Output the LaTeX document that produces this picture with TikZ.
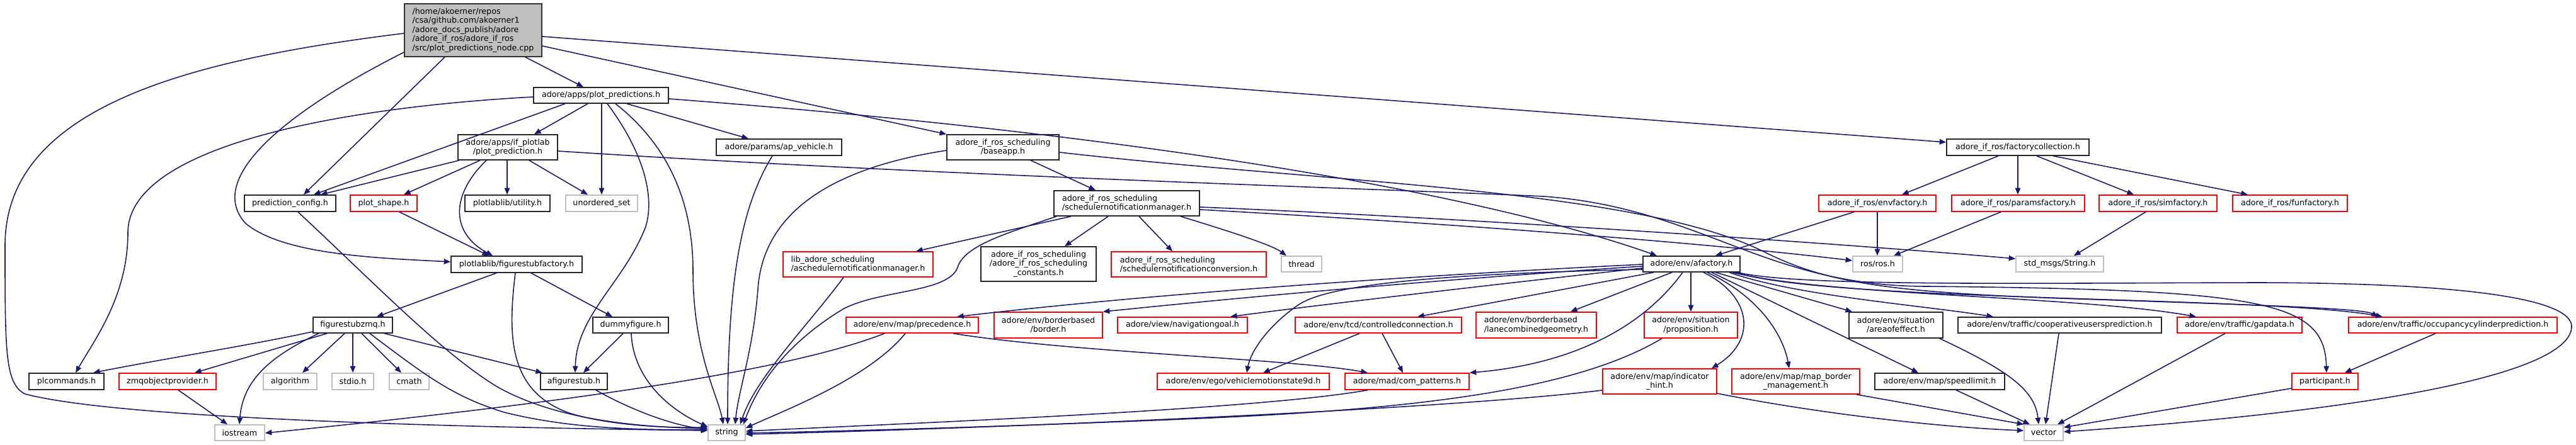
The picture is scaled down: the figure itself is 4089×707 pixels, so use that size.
\documentclass[tikz,border=0pt]{standalone}
\usepackage{fontspec}
\setmainfont{DejaVu Sans}
\usetikzlibrary{arrows.meta}
\definecolor{edgeblue}{HTML}{191970}
\definecolor{grayb}{HTML}{BFBFBF}
\newcommand\mkbox[6]{\node[#1, minimum width={(#5-#3)*0.01cm}, minimum height={(#6-#4)*0.01cm}] (#2) at ({(#3+#5)/2},{(#4+#6)/2})}
\tikzset{
 nd/.style={draw, line width=0.45pt, inner sep=0pt, font=\fontsize{3.6pt}{4.1pt}\selectfont, text=black, align=center},
 blk/.style={nd, draw=black!85},
 blkl/.style={blk, align=left},
 redn/.style={nd, draw=red},
 rednl/.style={redn, align=left},
 gryn/.style={nd, draw=grayb},
 rootn/.style={nd, draw=black!80, fill=grayb, align=left},
 edge/.style={draw=edgeblue, line width=0.45pt, -{Triangle[length=3pt,width=2.4pt]}},
}
\begin{document}
\begin{tikzpicture}[x=0.01cm,y=-0.01cm]
\useasboundingbox (0,0) rectangle (4089,707);
% ---------- nodes ----------
\mkbox{rootn}{root}{642}{6}{860}{90}{/home/akoerner/repos\\/csa/github.com/akoerner1\\/adore\_docs\_publish/adore\\/adore\_if\_ros/adore\_if\_ros\\/src/plot\_predictions\_node.cpp};
\mkbox{blk}{pp}{847}{139}{1061}{164}{adore/apps/plot\_predictions.h};
\mkbox{blk}{plp}{727}{214}{885}{254}{adore/apps/if\_plotlab\\/plot\_prediction.h};
\mkbox{blk}{apv}{1137}{221}{1336}{247}{adore/params/ap\_vehicle.h};
\mkbox{blk}{bapp}{1503}{214}{1681}{254}{adore\_if\_ros\_scheduling\\/baseapp.h};
\mkbox{blk}{fcol}{3090}{221}{3316}{247}{adore\_if\_ros/factorycollection.h};
\mkbox{blk}{pcfg}{388}{310}{533}{336}{prediction\_config.h};
\mkbox{redn}{pshape}{556}{310}{662}{336}{plot\_shape.h};
\mkbox{blk}{util}{738}{310}{873}{336}{plotlablib/utility.h};
\mkbox{gryn}{uset}{898}{310}{1012}{336}{unordered\_set};
\mkbox{blkl}{snm}{1673}{303}{1904}{343}{adore\_if\_ros\_scheduling\\/schedulernotificationmanager.h};
\mkbox{redn}{envf}{2887}{310}{3073}{336}{adore\_if\_ros/envfactory.h};
\mkbox{redn}{parf}{3098}{310}{3309}{336}{adore\_if\_ros/paramsfactory.h};
\mkbox{redn}{simf}{3332}{310}{3519}{336}{adore\_if\_ros/simfactory.h};
\mkbox{redn}{funf}{3544}{310}{3726}{336}{adore\_if\_ros/funfactory.h};
\mkbox{blk}{fsf}{716}{407}{924}{433}{plotlablib/figurestubfactory.h};
\mkbox{rednl}{asnm}{1243}{400}{1481}{440}{lib\_adore\_scheduling\\/aschedulernotificationmanager.h};
\mkbox{blk}{const}{1557}{392}{1740}{447}{adore\_if\_ros\_scheduling\\/adore\_if\_ros\_scheduling\\\_constants.h};
\mkbox{rednl}{conv}{1764}{400}{2010}{440}{adore\_if\_ros\_scheduling\\/schedulernotificationconversion.h};
\mkbox{gryn}{thread}{2034}{407}{2098}{432}{thread};
\mkbox{blk}{afac}{2608}{407}{2762}{432}{adore/env/afactory.h};
\mkbox{gryn}{ros}{2941}{407}{3020}{432}{ros/ros.h};
\mkbox{gryn}{smsg}{3200}{407}{3339}{432}{std\_msgs/String.h};
\mkbox{blk}{fsz}{497}{504}{623}{529}{figurestubzmq.h};
\mkbox{blk}{dummy}{941}{504}{1061}{529}{dummyfigure.h};
\mkbox{redn}{prec}{1343}{504}{1553}{529}{adore/env/map/precedence.h};
\mkbox{redn}{border}{1578}{496}{1750}{537}{adore/env/borderbased\\/border.h};
\mkbox{redn}{navg}{1774}{504}{1980}{529}{adore/view/navigationgoal.h};
\mkbox{redn}{ccon}{2056}{504}{2320}{529}{adore/env/tcd/controlledconnection.h};
\mkbox{rednl}{lcg}{2343}{496}{2534}{537}{adore/env/borderbased\\/lanecombinedgeometry.h};
\mkbox{redn}{prop}{2610}{496}{2758}{537}{adore/env/situation\\/proposition.h};
\mkbox{blk}{aoe}{2935}{496}{3084}{537}{adore/env/situation\\/areaofeffect.h};
\mkbox{blk}{coop}{3108}{504}{3431}{529}{adore/env/traffic/cooperativeusersprediction.h};
\mkbox{redn}{gap}{3456}{504}{3654}{529}{adore/env/traffic/gapdata.h};
\mkbox{redn}{occ}{3728}{504}{4059}{529}{adore/env/traffic/occupancycylinderprediction.h};
\mkbox{blk}{plc}{46}{593}{165}{619}{plcommands.h};
\mkbox{redn}{zmq}{189}{593}{343}{619}{zmqobjectprovider.h};
\mkbox{gryn}{algo}{418}{593}{503}{619}{algorithm};
\mkbox{gryn}{stdio}{527}{593}{593}{619}{stdio.h};
\mkbox{gryn}{cmath}{618}{593}{681}{619}{cmath};
\mkbox{blk}{afs}{858}{593}{964}{619}{afigurestub.h};
\mkbox{redn}{vms}{1837}{593}{2110}{619}{adore/env/ego/vehiclemotionstate9d.h};
\mkbox{redn}{comp}{2135}{593}{2332}{619}{adore/mad/com\_patterns.h};
\mkbox{redn}{ihint}{2544}{586}{2725}{626}{adore/env/map/indicator\\\_hint.h};
\mkbox{redn}{mbm}{2749}{586}{2952}{626}{adore/env/map/map\_border\\\_management.h};
\mkbox{blk}{spd}{2976}{593}{3182}{619}{adore/env/map/speedlimit.h};
\mkbox{redn}{part}{3638}{593}{3743}{619}{participant.h};
\mkbox{gryn}{iostream}{341}{675}{420}{700}{iostream};
\mkbox{gryn}{string}{1124}{675}{1183}{700}{string};
\mkbox{gryn}{vector}{3213}{675}{3275}{700}{vector};
% ---------- edges ----------
% root
\draw[edge] (root.west |- 0,53) .. controls (300,95) and (8,170) .. (8,390) .. controls (8,560) and (8,610) .. (40,626) .. controls (200,668) and (800,680) .. (string.west |- 0,684);
\draw[edge] (root.south -| 706,0) -- (pcfg.north -| 482,0);
\draw[edge] (root.west |- 0,83) .. controls (430,190) and (330,290) .. (390,355) .. controls (450,405) and (600,410) .. (fsf.west |- 0,416);
\draw[edge] (root.south -| 834,0) -- (pp.north -| 926,0);
\draw[edge] (root.east |- 0,73) -- (bapp.north west);
\draw[edge] (root.east |- 0,58) -- (fcol.west |- 0,226);
% plot_predictions.h
\draw[edge] (pp.west |- 0,154) .. controls (550,170) and (203,230) .. (203,370) .. controls (203,470) and (150,540) .. (plc.north -| 120,0);
\draw[edge] (pp.south -| 897,0) -- (pcfg.north -| 498,0);
\draw[edge] (pp.south -| 933,0) -- (plp.north -| 848,0);
\draw[edge] (pp.south -| 955,0) -- (uset.north -| 955,0);
\draw[edge] (pp.south -| 964,0) .. controls (1020,240) and (1040,310) .. (1025,360) .. controls (990,450) and (915,500) .. (afs.north -| 913,0);
\draw[edge] (pp.south -| 977,0) .. controls (1060,230) and (1100,320) .. (1100,430) .. controls (1100,560) and (1140,630) .. (string.north -| 1148,0);
\draw[edge] (pp.south -| 995,0) -- (apv.north -| 1188,0);
\draw[edge] (pp.east |- 0,157) .. controls (1700,205) and (2300,290) .. (afac.north -| 2630,0);
% plot_prediction.h
\draw[edge] (plp.south -| 729,0) -- (pcfg.north -| 509,0);
\draw[edge] (plp.south -| 762,0) -- (pshape.north -| 641,0);
\draw[edge] (plp.south -| 805,0) -- (util.north -| 805,0);
\draw[edge] (plp.south -| 840,0) -- (uset.north -| 933,0);
\draw[edge] (plp.south -| 772,0) .. controls (715,310) and (715,370) .. (fsf.north -| 782,0);
\draw[edge] (plp.east |- 0,240) .. controls (1500,280) and (2200,300) .. (2450,312) .. controls (2700,330) and (2800,455) .. (3059,455) .. controls (3600,460) and (3690,480) .. (part.north -| 3693,0);
% plot_shape, prediction_config
\draw[edge] (pshape.south -| 634,0) -- (fsf.north -| 776,0);
\draw[edge] (pcfg.south -| 473,0) .. controls (600,455) and (700,560) .. (790,615) .. controls (880,665) and (1000,678) .. (string.west |- 0,681);
% figurestubfactory
\draw[edge] (fsf.south -| 788,0) -- (fsz.north -| 598,0);
\draw[edge] (fsf.south -| 843,0) -- (dummy.north -| 972,0);
\draw[edge] (fsf.south -| 818,0) .. controls (805,540) and (810,620) .. (900,655) .. controls (960,675) and (1050,680) .. (string.west |- 0,679);
% figurestubzmq
\draw[edge] (fsz.west |- 0,527) .. controls (400,548) and (260,570) .. (plc.north -| 148,0);
\draw[edge] (fsz.south -| 519,0) -- (zmq.north -| 309,0);
\draw[edge] (fsz.south -| 506,0) .. controls (420,570) and (385,610) .. (iostream.north -| 380,0);
\draw[edge] (fsz.south -| 547,0) -- (algo.north -| 480,0);
\draw[edge] (fsz.south -| 560,0) -- (stdio.north -| 560,0);
\draw[edge] (fsz.south -| 574,0) -- (cmath.north -| 637,0);
\draw[edge] (fsz.south -| 610,0) -- (afs.north -| 861,0);
\draw[edge] (fsz.south -| 587,0) .. controls (680,600) and (720,630) .. (800,655) .. controls (900,680) and (1000,683) .. (string.west |- 0,683);
\draw[edge] (zmq.south -| 283,0) -- (iostream.north -| 361,0);
\draw[edge] (afs.south -| 946,0) .. controls (990,645) and (1060,675) .. (string.west |- 0,682);
\draw[edge] (dummy.south -| 989,0) -- (afs.north -| 926,0);
\draw[edge] (dummy.south -| 1002,0) .. controls (1005,600) and (1060,650) .. (string.west |- 0,678);
% ap_vehicle
\draw[edge] (apv.south -| 1226,0) .. controls (1175,330) and (1155,450) .. (string.north -| 1155,0);
% baseapp
\draw[edge] (bapp.south -| 1636,0) -- (snm.north -| 1739,0);
\draw[edge] (bapp.west |- 0,239) .. controls (1300,270) and (1210,350) .. (1203,460) .. controls (1195,560) and (1172,620) .. (string.north -| 1167,0);
\draw[edge] (bapp.east |- 0,242) .. controls (2100,290) and (2600,300) .. (2800,400) .. controls (2900,450) and (3000,465) .. (3300,475) .. controls (3600,485) and (3750,490) .. (occ.north -| 3775,0);
% schedulernotificationmanager
\draw[edge] (snm.south -| 1700,0) -- (asnm.north -| 1454,0);
\draw[edge] (snm.south -| 1677,0) .. controls (1600,370) and (1530,390) .. (1520,425) .. controls (1505,465) and (1400,460) .. (1340,490) .. controls (1240,550) and (1200,620) .. (string.north -| 1180,0);
\draw[edge] (snm.south -| 1759,0) -- (const.north -| 1690,0);
\draw[edge] (snm.south -| 1808,0) -- (conv.north -| 1861,0);
\draw[edge] (snm.south -| 1874,0) .. controls (1960,370) and (2020,390) .. (thread.north -| 2042,0);
\draw[edge] (snm.east |- 0,329) .. controls (2300,345) and (2900,385) .. (smsg.west |- 0,411);
\draw[edge] (snm.east |- 0,333) .. controls (2300,355) and (2700,385) .. (ros.west |- 0,414);
\draw[edge] (asnm.south -| 1339,0) .. controls (1280,520) and (1200,600) .. (string.north -| 1175,0);
% factories
\draw[edge] (envf.south -| 2943,0) -- (afac.north -| 2723,0);
\draw[edge] (envf.south -| 2980,0) -- (ros.north -| 2980,0);
\draw[edge] (parf.south -| 3176,0) -- (ros.north -| 3006,0);
\draw[edge] (simf.south -| 3406,0) -- (smsg.north -| 3292,0);
\draw[edge] (fcol.south -| 3172,0) -- (envf.north -| 3019,0);
\draw[edge] (fcol.south -| 3203,0) -- (parf.north -| 3203,0);
\draw[edge] (fcol.south -| 3233,0) -- (simf.north -| 3387,0);
\draw[edge] (fcol.south -| 3259,0) -- (funf.north -| 3568,0);
% afactory
\draw[edge] (afac.west |- 0,420) .. controls (2200,440) and (1800,470) .. (prec.north -| 1519,0);
\draw[edge] (afac.west |- 0,423) .. controls (2200,450) and (1900,480) .. (border.north east);
\draw[edge] (afac.west |- 0,426) .. controls (2300,460) and (2050,490) .. (navg.north -| 1953,0);
\draw[edge] (afac.west |- 0,428) .. controls (2300,435) and (2110,450) .. (2060,485) .. controls (2010,520) and (1985,560) .. (vms.north -| 1979,0);
\draw[edge] (afac.south -| 2625,0) -- (ccon.north -| 2250,0);
\draw[edge] (afac.south -| 2654,0) -- (lcg.north -| 2493,0);
\draw[edge] (afac.south -| 2671,0) .. controls (2600,530) and (2480,580) .. (comp.north east);
\draw[edge] (afac.south -| 2684,0) -- (prop.north -| 2684,0);
\draw[edge] (afac.south -| 2704,0) .. controls (2780,470) and (2790,540) .. (ihint.north -| 2717,0);
\draw[edge] (afac.south -| 2710,0) .. controls (2790,470) and (2830,530) .. (mbm.north -| 2840,0);
\draw[edge] (afac.south -| 2717,0) -- (spd.north -| 3045,0);
\draw[edge] (afac.south -| 2723,0) -- (aoe.north -| 2940,0);
\draw[edge] (afac.south -| 2745,0) .. controls (2850,470) and (3050,485) .. (coop.north -| 3164,0);
\draw[edge] (afac.south -| 2750,0) .. controls (2900,470) and (3300,470) .. (gap.north -| 3486,0);
\draw[edge] (afac.south -| 2755,0) .. controls (2900,480) and (3600,470) .. (occ.north -| 3782,0);
\draw[edge] (afac.south -| 2758,0) .. controls (2850,455) and (3200,450) .. (3585,449) .. controls (3950,450) and (4085,480) .. (4082,520) .. controls (4078,590) and (3800,650) .. (vector.east |- 0,686);
% second-level
\draw[edge] (ccon.south -| 2158,0) -- (vms.north -| 2005,0);
\draw[edge] (ccon.south -| 2194,0) -- (comp.north -| 2227,0);
\draw[edge] (prec.south -| 1513,0) .. controls (1700,560) and (2050,570) .. (comp.north -| 2171,0);
\draw[edge] (prec.south -| 1404,0) .. controls (1250,590) and (900,640) .. (iostream.east |- 0,688);
\draw[edge] (prec.south -| 1437,0) .. controls (1380,600) and (1250,650) .. (string.east |- 0,680);
\draw[edge] (comp.south -| 2171,0) .. controls (2000,650) and (1500,670) .. (string.east |- 0,685);
\draw[edge] (prop.south -| 2638,0) .. controls (2500,620) and (2250,650) .. (1900,665) .. controls (1600,678) and (1300,686) .. (string.east |- 0,688);
\draw[edge] (ihint.west |- 0,620) .. controls (2300,650) and (1600,680) .. (string.east |- 0,690);
\draw[edge] (ihint.east |- 0,625) .. controls (2900,660) and (3100,680) .. (vector.west |- 0,684);
\draw[edge] (mbm.south -| 2947,0) -- (vector.north west);
\draw[edge] (spd.south -| 3105,0) -- (vector.north -| 3222,0);
\draw[edge] (aoe.south -| 3079,0) .. controls (3190,590) and (3230,620) .. (vector.north -| 3236,0);
\draw[edge] (coop.south -| 3268,0) -- (vector.north -| 3247,0);
\draw[edge] (gap.south -| 3532,0) -- (vector.north -| 3266,0);
\draw[edge] (part.west |- 0,617) -- (vector.east |- 0,679);
\draw[edge] (occ.south -| 3866,0) -- (part.north -| 3722,0);
\end{tikzpicture}
\end{document}
